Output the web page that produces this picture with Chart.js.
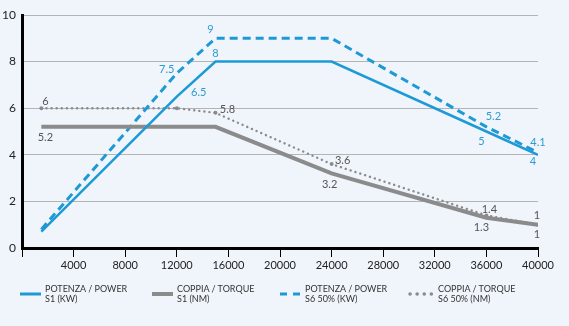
<!DOCTYPE html>
<html>
<head>
<meta charset="utf-8">
<script src="https://cdn.jsdelivr.net/npm/chart.js@4.4.1/dist/chart.umd.min.js"></script>
<style>
  html, body { margin: 0; padding: 0; background: #f0f5fc; }
  #wrap { position: relative; width: 569px; height: 326px; overflow: hidden; }
  #chart { position: absolute; left: 0; top: 0; }
  .leg { position: absolute; top: 284px; height: 22px; font-family: Lato, "Open Sans", sans-serif; font-size: 9px; line-height: 10px; color: #333; }
  .leg svg { position: absolute; left: 0; top: 6px; }
  .leg span { position: absolute; white-space: nowrap; top: 0; }
</style>
</head>
<body>
<div id="wrap">
  <canvas id="chart" width="569" height="326"></canvas>
</div>
<script>
(function () {
    "use strict";

    // speed (rpm) on x, value on y
    var speeds = [1500, 12000, 15000, 24000, 36000, 40000];
    var powerS1 = [0.7, 6.5, 8, 8, 5, 4];
    var torqueS1 = [5.2, null, 5.2, 3.2, 1.3, 1];
    var powerS6 = [0.8, 7.5, 9, 9, 5.2, 4.1];
    var torqueS6 = [6, 6, 5.8, 3.6, 1.4, 1];
    var xTicks = [4000, 8000, 12000, 16000, 20000, 24000, 28000, 32000, 36000, 40000];
    var yTicks = [0, 2, 4, 6, 8, 10];

    var BLUE = '#1d9ad6';
    var GREY = '#8b8b8b';

    function pts(values) {
        var out = [];
        values.forEach(function (v, i) {
            if (v !== null) out.push({ x: speeds[i], y: v });
        });
        return out;
    }

    // per-point label offsets (px) relative to the point; null = no label
    var labelOffsets = [
        [null, [22, -4], [0, -8], null, [-5, 10], [-5, 7]],
        [[4, 11], null, [-2, 11], [-5, 10], [-1, 10]],
        [null, [-10, -4], [-5, -9], null, [7, -10], [0, -10]],
        [[4, -7], null, [12, -3], [11, -4], [3, -6], [-1, -9]]
    ];

    var datasets = [
        { label: ['POTENZA / POWER', 'S1 (KW)'], data: pts(powerS1), borderColor: BLUE, borderWidth: 2.5, pointRadius: 0, labelColor: '#2e9bd0', legend: 'solid' },
        { label: ['COPPIA / TORQUE', 'S1 (NM)'], data: pts(torqueS1), borderColor: GREY, borderWidth: 4, pointRadius: 0, labelColor: '#555', legend: 'solid' },
        { label: ['POTENZA / POWER', 'S6 50% (KW)'], data: pts(powerS6), borderColor: BLUE, borderWidth: 3, borderDash: [8, 5], pointRadius: 0, labelColor: '#2e9bd0', legend: 'dash' },
        { label: ['COPPIA / TORQUE', 'S6 50% (NM)'], data: pts(torqueS6), borderColor: GREY, borderWidth: 2.4, borderDash: [0.1, 5], borderCapStyle: 'round', pointRadius: 2, pointBackgroundColor: GREY, pointBorderWidth: 0, labelColor: '#555', legend: 'dot' }
    ];
    datasets.forEach(function (d) { d.fill = false; d.tension = 0; });

    var valueLabels = {
        id: 'valueLabels',
        afterDatasetsDraw: function (chart) {
            var ctx = chart.ctx;
            ctx.save();
            ctx.font = '11px Lato, "Open Sans", sans-serif';
            ctx.textAlign = 'center';
            ctx.textBaseline = 'middle';
            chart.data.datasets.forEach(function (ds, di) {
                var meta = chart.getDatasetMeta(di);
                var offs = labelOffsets[di];
                ctx.fillStyle = ds.labelColor;
                meta.data.forEach(function (el, i) {
                    if (!offs[i]) return;
                    ctx.fillText(String(ds.data[i].y), el.x + offs[i][0], el.y + offs[i][1]);
                });
            });
            ctx.restore();
        }
    };

    new Chart(document.getElementById('chart'), {
        type: 'line',
        data: { datasets: datasets },
        plugins: [valueLabels],
        options: {
            responsive: false,
            animation: false,
            layout: { padding: { top: 15, right: 31, left: 0, bottom: 0 } },
            scales: {
                x: {
                    type: 'linear', min: 0, max: 40000,
                    afterBuildTicks: function (s) { s.ticks = [{ value: 0 }].concat(xTicks.map(function (v) { return { value: v }; })); },
                    afterFit: function (s) { s.height = 78; },
                    border: { color: '#000', width: 3 },
                    grid: { drawOnChartArea: false, drawTicks: true, tickLength: 9, color: '#000', lineWidth: 1 },
                    ticks: {
                        color: '#222', padding: 2, maxRotation: 0,
                        font: { family: 'Lato, "Open Sans", sans-serif', size: 11 },
                        callback: function (v) { return v === 0 ? '' : String(v); }
                    }
                },
                y: {
                    min: 0, max: 10,
                    afterBuildTicks: function (s) { s.ticks = yTicks.map(function (v) { return { value: v }; }); },
                    afterFit: function (s) { s.width = 22; },
                    border: { color: '#000', width: 3 },
                    grid: { color: '#b4b4b4', lineWidth: 1, drawTicks: false },
                    ticks: {
                        color: '#222', padding: 6,
                        font: { family: 'Lato, "Open Sans", sans-serif', size: 12 }
                    }
                }
            },
            plugins: { legend: { display: false }, tooltip: { enabled: false } }
        }
    });

    // legend below the plot
    var legendLeft = [20, 152, 280, 408];
    var wrap = document.getElementById('wrap');
    datasets.forEach(function (ds, i) {
        var div = document.createElement('div');
        div.className = 'leg';
        div.style.left = legendLeft[i] + 'px';
        var sw = '';
        if (ds.legend === 'solid') {
            sw = '<line x1="0" y1="4" x2="21" y2="4" stroke="' + ds.borderColor + '" stroke-width="' + (i === 1 ? 4 : 3) + '"/>';
        } else if (ds.legend === 'dash') {
            sw = '<line x1="0" y1="4" x2="21" y2="4" stroke="' + ds.borderColor + '" stroke-width="3" stroke-dasharray="7 6"/>';
        } else {
            sw = '<line x1="2" y1="4" x2="24" y2="4" stroke="' + ds.borderColor + '" stroke-width="3.5" stroke-linecap="round" stroke-dasharray="0.1 7"/>';
        }
        var swW = ds.legend === 'dot' ? 27 : 22;
        div.innerHTML = '<svg width="' + swW + '" height="8">' + sw + '</svg>' +
            '<span style="left:' + (swW + 3) + 'px">' + ds.label[0] + '<br>' + ds.label[1] + '</span>';
        wrap.appendChild(div);
    });
})();
</script>
</body>
</html>
